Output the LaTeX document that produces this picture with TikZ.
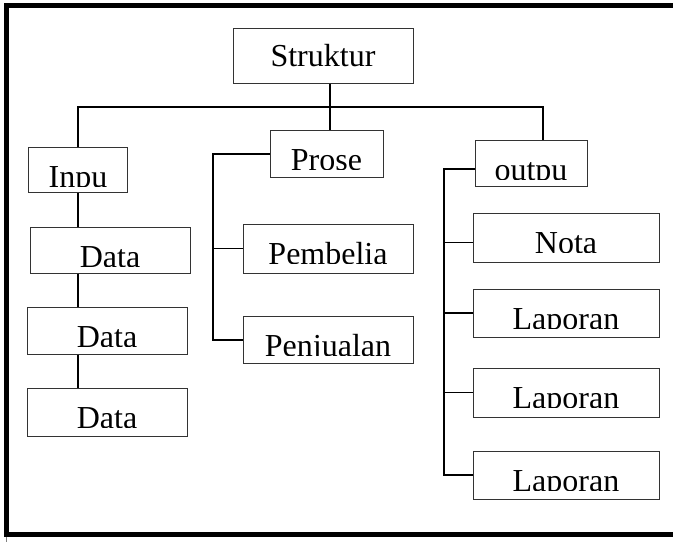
\documentclass[tikz,border=0pt]{standalone}
\usepackage{fontspec}
\setmainfont{Liberation Serif}
\tikzset{
        kotak/.style={draw=black!80, line width=1pt, inner sep=0pt},
        isi/.style={path picture={
                \clip (path picture bounding box.north west) rectangle ([yshift=-39pt]path picture bounding box.north east);
                \node[anchor=base, inner sep=0pt, font=\fontsize{32}{38}\selectfont] at ([yshift=-40pt]path picture bounding box.north) {#1};}},
        hubung/.style={line width=1.8pt}
}
\begin{document}
\begin{tikzpicture}[x=1pt,y=-1pt]
        \useasboundingbox (0,0) rectangle (673,542);
        \draw[line width=4.7pt] (673,5.7) -- (6.5,5.7) -- (6.5,534.5) -- (673,534.5);
        \draw[black!50, line width=0.8pt] (6.7,536.9) -- (6.7,542);
        \node[kotak, minimum width=180pt, minimum height=55pt, font=\fontsize{32}{38}\selectfont, text height=22pt, text depth=0pt] (strk) at (323,55.5) {Struktur};
        \node[kotak, isi=Inpu, minimum width=99pt, minimum height=45pt] (inp) at (78,170) {};
        \node[kotak, isi=Prose, minimum width=113pt, minimum height=47pt] (prose) at (326.5,154) {};
        \node[kotak, isi=outpu, minimum width=112pt, minimum height=46pt] (outp) at (531,163.3) {};
        \node[kotak, isi=Data, minimum width=160pt, minimum height=46pt] (d1) at (110,250) {};
        \node[kotak, isi=Data, minimum width=160pt, minimum height=47pt] (d2) at (107,330.5) {};
        \node[kotak, isi=Data, minimum width=160pt, minimum height=48pt] (d3) at (107,412) {};
        \node[kotak, isi=Pembelia, minimum width=170pt, minimum height=49pt] (pemb) at (328,248.5) {};
        \node[kotak, isi=Penjualan, minimum width=170pt, minimum height=47pt] (penj) at (328,339.7) {};
        \node[kotak, isi=Nota, minimum width=186pt, minimum height=49pt] (nota) at (566,237.5) {};
        \node[kotak, isi=Laporan, minimum width=186pt, minimum height=48pt] (lap1) at (566,313) {};
        \node[kotak, isi=Laporan, minimum width=186pt, minimum height=49pt] (lap2) at (566,392.5) {};
        \node[kotak, isi=Laporan, minimum width=186pt, minimum height=48pt] (lap3) at (566,475) {};
        \coordinate (atas) at (330,107);
        \coordinate (kanan) at (543,107);
        \coordinate (pbus) at (213,0);
        \coordinate (obus) at (444,169);
        \draw[hubung] (atas |- strk.south) -- (atas |- prose.north);
        \draw[hubung] (inp.north) -- (inp.north |- atas) -- (kanan) -- (kanan |- outp.north);
        \draw[hubung] (inp.south) -- (inp.south |- d1.north) (inp.south |- d1.south) -- (inp.south |- d2.north) (inp.south |- d2.south) -- (inp.south |- d3.north);
        \draw[hubung] (prose.west) -- (prose.west -| pbus) |- (penj.west);
        \draw[hubung] (pemb.west -| pbus) -- (pemb.west);
        \draw[hubung] (obus -| outp.west) -- (obus) |- (lap3.west);
        \draw[hubung] ([yshift=-5pt]nota.west -| obus) -- ([yshift=-5pt]nota.west);
        \foreach \n in {lap1,lap2} \draw[hubung] (\n.west -| obus) -- (\n.west);
\end{tikzpicture}
\end{document}
